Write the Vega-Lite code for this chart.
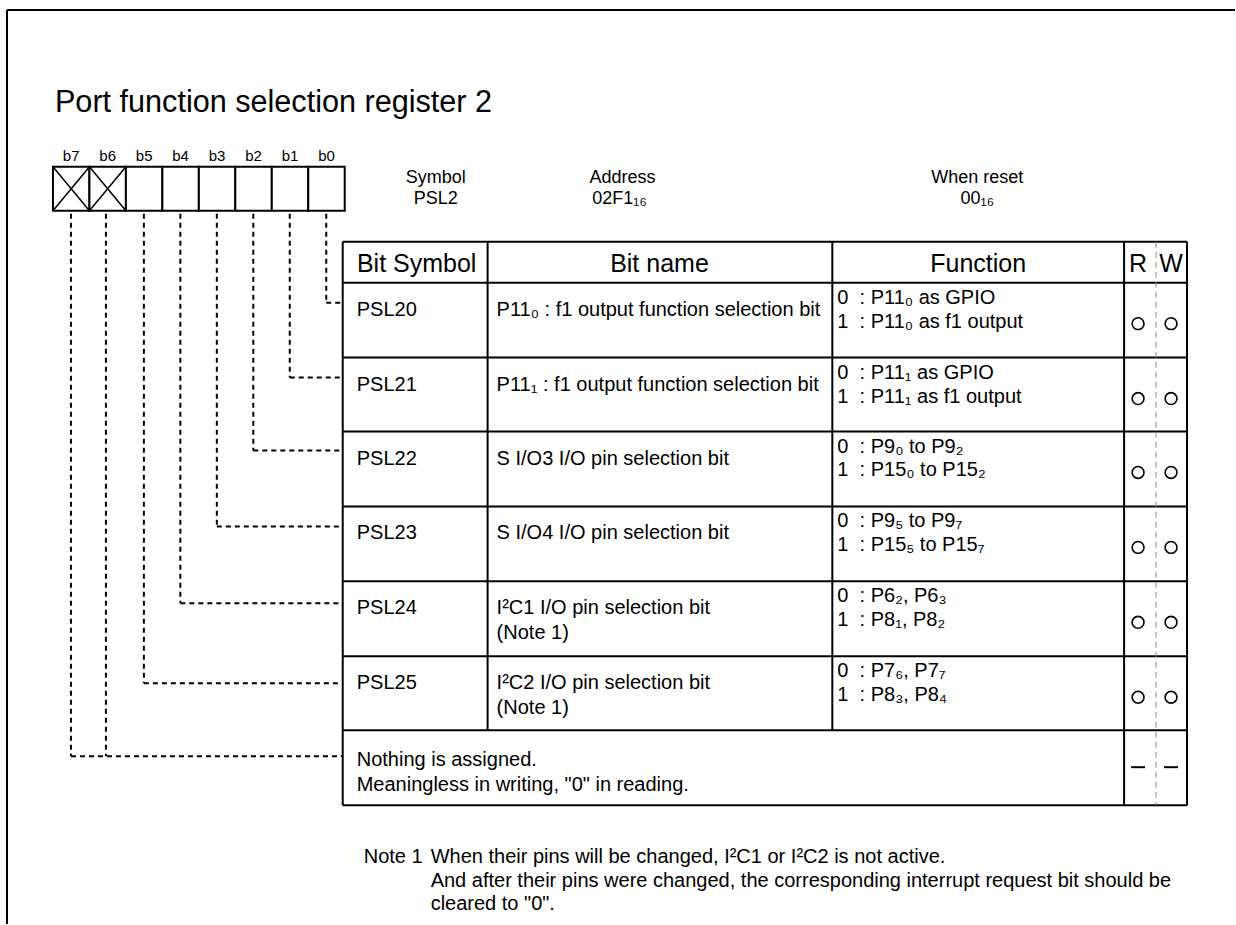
{
  "$schema": "https://vega.github.io/schema/vega-lite/v6.json",
  "width": 1236,
  "height": 925,
  "autosize": {"type": "fit", "contains": "padding"},
  "padding": 0,
  "background": "white",
  "config": {"view": {"stroke": null}, "text": {"font": "Liberation Sans", "color": "black"}},
  "datasets": {
    "solid": [
      {"x": 7, "y": 10, "x2": 1236, "y2": 10},
      {"x": 7, "y": 10, "x2": 7, "y2": 925},
      {"x": 343, "y": 242, "x2": 1188, "y2": 242},
      {"x": 343, "y": 283, "x2": 1188, "y2": 283},
      {"x": 343, "y": 358, "x2": 1188, "y2": 358},
      {"x": 343, "y": 432, "x2": 1188, "y2": 432},
      {"x": 343, "y": 507, "x2": 1188, "y2": 507},
      {"x": 343, "y": 582, "x2": 1188, "y2": 582},
      {"x": 343, "y": 657, "x2": 1188, "y2": 657},
      {"x": 343, "y": 731, "x2": 1188, "y2": 731},
      {"x": 343, "y": 806, "x2": 1188, "y2": 806},
      {"x": 343, "y": 242, "x2": 343, "y2": 806},
      {"x": 488, "y": 242, "x2": 488, "y2": 731},
      {"x": 833, "y": 242, "x2": 833, "y2": 731},
      {"x": 1125, "y": 242, "x2": 1125, "y2": 806},
      {"x": 1188, "y": 242, "x2": 1188, "y2": 806}
    ],
    "rwsplit": [{"x": 1157, "y": 242, "x2": 1157, "y2": 806}],
    "bits": [
      {"bit": "b7", "x0": 53, "x1": 89.5, "y0": 167, "y1": 211, "xc": 71.25, "ty": 161.5},
      {"bit": "b6", "x0": 89.5, "x1": 126, "y0": 167, "y1": 211, "xc": 107.75, "ty": 161.5},
      {"bit": "b5", "x0": 126, "x1": 162.5, "y0": 167, "y1": 211, "xc": 144.25, "ty": 161.5},
      {"bit": "b4", "x0": 162.5, "x1": 199, "y0": 167, "y1": 211, "xc": 180.75, "ty": 161.5},
      {"bit": "b3", "x0": 199, "x1": 235.5, "y0": 167, "y1": 211, "xc": 217.25, "ty": 161.5},
      {"bit": "b2", "x0": 235.5, "x1": 272, "y0": 167, "y1": 211, "xc": 253.75, "ty": 161.5},
      {"bit": "b1", "x0": 272, "x1": 308.5, "y0": 167, "y1": 211, "xc": 290.25, "ty": 161.5},
      {"bit": "b0", "x0": 308.5, "x1": 345, "y0": 167, "y1": 211, "xc": 326.75, "ty": 161.5}
    ],
    "crosses": [
      {"bit": "b7", "x": 53, "y": 167, "x2": 89.5, "y2": 211},
      {"bit": "b7", "x": 53, "y": 211, "x2": 89.5, "y2": 167},
      {"bit": "b6", "x": 89.5, "y": 167, "x2": 126, "y2": 211},
      {"bit": "b6", "x": 89.5, "y": 211, "x2": 126, "y2": 167}
    ],
    "connectors": [
      {"bit": "b7", "x": 71, "y": 214, "x2": 71, "y2": 757},
      {"bit": "b7", "x": 71, "y": 757, "x2": 343, "y2": 757},
      {"bit": "b6", "x": 106, "y": 214, "x2": 106, "y2": 757},
      {"bit": "b5", "x": 144, "y": 214, "x2": 144, "y2": 684},
      {"bit": "b5", "x": 144, "y": 684, "x2": 343, "y2": 684},
      {"bit": "b4", "x": 180.5, "y": 214, "x2": 180.5, "y2": 604},
      {"bit": "b4", "x": 180.5, "y": 604, "x2": 343, "y2": 604},
      {"bit": "b3", "x": 217, "y": 214, "x2": 217, "y2": 527},
      {"bit": "b3", "x": 217, "y": 527, "x2": 343, "y2": 527},
      {"bit": "b2", "x": 253.5, "y": 214, "x2": 253.5, "y2": 451},
      {"bit": "b2", "x": 253.5, "y": 451, "x2": 343, "y2": 451},
      {"bit": "b1", "x": 290, "y": 214, "x2": 290, "y2": 378},
      {"bit": "b1", "x": 290, "y": 378, "x2": 343, "y2": 378},
      {"bit": "b0", "x": 326.5, "y": 214, "x2": 326.5, "y2": 303},
      {"bit": "b0", "x": 326.5, "y": 303, "x2": 343, "y2": 303}
    ],
    "titleText": [{"text": "Port function selection register 2", "x": 55, "y": 112}],
    "info": [
      {"text": "Symbol", "x": 436, "y": 178},
      {"text": "PSL2", "x": 436, "y": 199},
      {"text": "Address", "x": 623, "y": 178},
      {"text": "02F1₁₆", "x": 620, "y": 199},
      {"text": "When reset", "x": 978, "y": 178},
      {"text": "00₁₆", "x": 978, "y": 199}
    ],
    "header": [
      {"text": "Bit Symbol", "x": 417, "y": 272},
      {"text": "Bit name", "x": 660, "y": 272},
      {"text": "Function", "x": 979, "y": 272},
      {"text": "R", "x": 1139, "y": 272},
      {"text": "W", "x": 1172, "y": 272}
    ],
    "cells": [
      {"row": "PSL20", "col": "symbol", "text": "PSL20", "x": 357, "y": 310},
      {"row": "PSL20", "col": "name", "text": "P11₀ : f1 output function selection bit", "x": 497, "y": 310},
      {"row": "PSL20", "col": "function", "text": "0\u00a0\u00a0: P11₀ as GPIO", "x": 838, "y": 298},
      {"row": "PSL20", "col": "function", "text": "1\u00a0\u00a0: P11₀ as f1 output", "x": 838, "y": 322},
      {"row": "PSL21", "col": "symbol", "text": "PSL21", "x": 357, "y": 385},
      {"row": "PSL21", "col": "name", "text": "P11₁ : f1 output function selection bit", "x": 497, "y": 385},
      {"row": "PSL21", "col": "function", "text": "0\u00a0\u00a0: P11₁ as GPIO", "x": 838, "y": 373},
      {"row": "PSL21", "col": "function", "text": "1\u00a0\u00a0: P11₁ as f1 output", "x": 838, "y": 397},
      {"row": "PSL22", "col": "symbol", "text": "PSL22", "x": 357, "y": 459},
      {"row": "PSL22", "col": "name", "text": "S I/O3 I/O pin selection bit", "x": 497, "y": 459},
      {"row": "PSL22", "col": "function", "text": "0\u00a0\u00a0: P9₀ to P9₂", "x": 838, "y": 447},
      {"row": "PSL22", "col": "function", "text": "1\u00a0\u00a0: P15₀ to P15₂", "x": 838, "y": 471},
      {"row": "PSL23", "col": "symbol", "text": "PSL23", "x": 357, "y": 534},
      {"row": "PSL23", "col": "name", "text": "S I/O4 I/O pin selection bit", "x": 497, "y": 534},
      {"row": "PSL23", "col": "function", "text": "0\u00a0\u00a0: P9₅ to P9₇", "x": 838, "y": 522},
      {"row": "PSL23", "col": "function", "text": "1\u00a0\u00a0: P15₅ to P15₇", "x": 838, "y": 546},
      {"row": "PSL24", "col": "symbol", "text": "PSL24", "x": 357, "y": 609},
      {"row": "PSL24", "col": "name", "text": "I²C1 I/O pin selection bit", "x": 497, "y": 609},
      {"row": "PSL24", "col": "name", "text": "(Note 1)", "x": 497, "y": 634},
      {"row": "PSL24", "col": "function", "text": "0\u00a0\u00a0: P6₂, P6₃", "x": 838, "y": 597},
      {"row": "PSL24", "col": "function", "text": "1\u00a0\u00a0: P8₁, P8₂", "x": 838, "y": 621},
      {"row": "PSL25", "col": "symbol", "text": "PSL25", "x": 357, "y": 684},
      {"row": "PSL25", "col": "name", "text": "I²C2 I/O pin selection bit", "x": 497, "y": 684},
      {"row": "PSL25", "col": "name", "text": "(Note 1)", "x": 497, "y": 709},
      {"row": "PSL25", "col": "function", "text": "0\u00a0\u00a0: P7₆, P7₇", "x": 838, "y": 672},
      {"row": "PSL25", "col": "function", "text": "1\u00a0\u00a0: P8₃, P8₄", "x": 838, "y": 696},
      {"row": "reserved", "col": "all", "text": "Nothing is assigned.", "x": 357, "y": 761},
      {"row": "reserved", "col": "all", "text": "Meaningless in writing, \"0\" in reading.", "x": 357, "y": 786}
    ],
    "access": [
      {"row": "PSL20", "col": "R", "x": 1139, "y": 324}, {"row": "PSL20", "col": "W", "x": 1172, "y": 324},
      {"row": "PSL21", "col": "R", "x": 1139, "y": 399}, {"row": "PSL21", "col": "W", "x": 1172, "y": 399},
      {"row": "PSL22", "col": "R", "x": 1139, "y": 473}, {"row": "PSL22", "col": "W", "x": 1172, "y": 473},
      {"row": "PSL23", "col": "R", "x": 1139, "y": 548}, {"row": "PSL23", "col": "W", "x": 1172, "y": 548},
      {"row": "PSL24", "col": "R", "x": 1139, "y": 623}, {"row": "PSL24", "col": "W", "x": 1172, "y": 623},
      {"row": "PSL25", "col": "R", "x": 1139, "y": 698}, {"row": "PSL25", "col": "W", "x": 1172, "y": 698}
    ],
    "dashes": [
      {"row": "reserved", "col": "R", "x": 1132, "x2": 1146, "y": 768, "y2": 768},
      {"row": "reserved", "col": "W", "x": 1165, "x2": 1179, "y": 768, "y2": 768}
    ],
    "notes": [
      {"text": "Note 1", "x": 364, "y": 858},
      {"text": "When their pins will be changed, I²C1 or I²C2 is not active.", "x": 431, "y": 858},
      {"text": "And after their pins were changed, the corresponding interrupt request bit should be", "x": 431, "y": 882},
      {"text": "cleared to \"0\".", "x": 431, "y": 905}
    ]
  },
  "layer": [
    {
      "data": {"name": "solid"},
      "mark": {"type": "rule", "strokeWidth": 2, "color": "black"},
      "encoding": {
        "x": {"field": "x", "type": "quantitative", "scale": {"domain": [0, 1236], "nice": false, "zero": false}, "axis": null},
        "y": {"field": "y", "type": "quantitative", "scale": {"domain": [0, 925], "nice": false, "zero": false, "reverse": true}, "axis": null},
        "x2": {"field": "x2"},
        "y2": {"field": "y2"}
      }
    },
    {
      "data": {"name": "rwsplit"},
      "mark": {"type": "rule", "strokeWidth": 1, "color": "#8a8a8a", "strokeDash": [6, 4]},
      "encoding": {
        "x": {"field": "x", "type": "quantitative"},
        "y": {"field": "y", "type": "quantitative"},
        "x2": {"field": "x2"},
        "y2": {"field": "y2"}
      }
    },
    {
      "data": {"name": "bits"},
      "mark": {"type": "rect", "fill": "white", "stroke": "black", "strokeWidth": 2},
      "encoding": {
        "x": {"field": "x0", "type": "quantitative"},
        "x2": {"field": "x1"},
        "y": {"field": "y0", "type": "quantitative"},
        "y2": {"field": "y1"}
      }
    },
    {
      "data": {"name": "crosses"},
      "mark": {"type": "rule", "strokeWidth": 1.5, "color": "black"},
      "encoding": {
        "x": {"field": "x", "type": "quantitative"},
        "y": {"field": "y", "type": "quantitative"},
        "x2": {"field": "x2"},
        "y2": {"field": "y2"}
      }
    },
    {
      "data": {"name": "bits"},
      "mark": {"type": "text", "fontSize": 15, "align": "center", "baseline": "alphabetic"},
      "encoding": {
        "x": {"field": "xc", "type": "quantitative"},
        "y": {"field": "ty", "type": "quantitative"},
        "text": {"field": "bit"}
      }
    },
    {
      "data": {"name": "connectors"},
      "mark": {"type": "rule", "strokeWidth": 2, "color": "black", "strokeDash": [5, 4]},
      "encoding": {
        "x": {"field": "x", "type": "quantitative"},
        "y": {"field": "y", "type": "quantitative"},
        "x2": {"field": "x2"},
        "y2": {"field": "y2"}
      }
    },
    {
      "data": {"name": "titleText"},
      "mark": {"type": "text", "fontSize": 30.6, "align": "left", "baseline": "alphabetic"},
      "encoding": {
        "x": {"field": "x", "type": "quantitative"},
        "y": {"field": "y", "type": "quantitative"},
        "text": {"field": "text"}
      }
    },
    {
      "data": {"name": "info"},
      "mark": {"type": "text", "fontSize": 18, "align": "center", "baseline": "middle"},
      "encoding": {
        "x": {"field": "x", "type": "quantitative"},
        "y": {"field": "y", "type": "quantitative"},
        "text": {"field": "text"}
      }
    },
    {
      "data": {"name": "header"},
      "mark": {"type": "text", "fontSize": 25, "align": "center", "baseline": "alphabetic"},
      "encoding": {
        "x": {"field": "x", "type": "quantitative"},
        "y": {"field": "y", "type": "quantitative"},
        "text": {"field": "text"}
      }
    },
    {
      "data": {"name": "cells"},
      "mark": {"type": "text", "fontSize": 20, "align": "left", "baseline": "middle"},
      "encoding": {
        "x": {"field": "x", "type": "quantitative"},
        "y": {"field": "y", "type": "quantitative"},
        "text": {"field": "text"}
      }
    },
    {
      "data": {"name": "access"},
      "mark": {"type": "point", "shape": "circle", "size": 140, "filled": false, "stroke": "black", "strokeWidth": 1.6, "opacity": 1},
      "encoding": {
        "x": {"field": "x", "type": "quantitative"},
        "y": {"field": "y", "type": "quantitative"}
      }
    },
    {
      "data": {"name": "dashes"},
      "mark": {"type": "rule", "strokeWidth": 2, "color": "black"},
      "encoding": {
        "x": {"field": "x", "type": "quantitative"},
        "y": {"field": "y", "type": "quantitative"},
        "x2": {"field": "x2"},
        "y2": {"field": "y2"}
      }
    },
    {
      "data": {"name": "notes"},
      "mark": {"type": "text", "fontSize": 20, "align": "left", "baseline": "middle"},
      "encoding": {
        "x": {"field": "x", "type": "quantitative"},
        "y": {"field": "y", "type": "quantitative"},
        "text": {"field": "text"}
      }
    }
  ]
}
